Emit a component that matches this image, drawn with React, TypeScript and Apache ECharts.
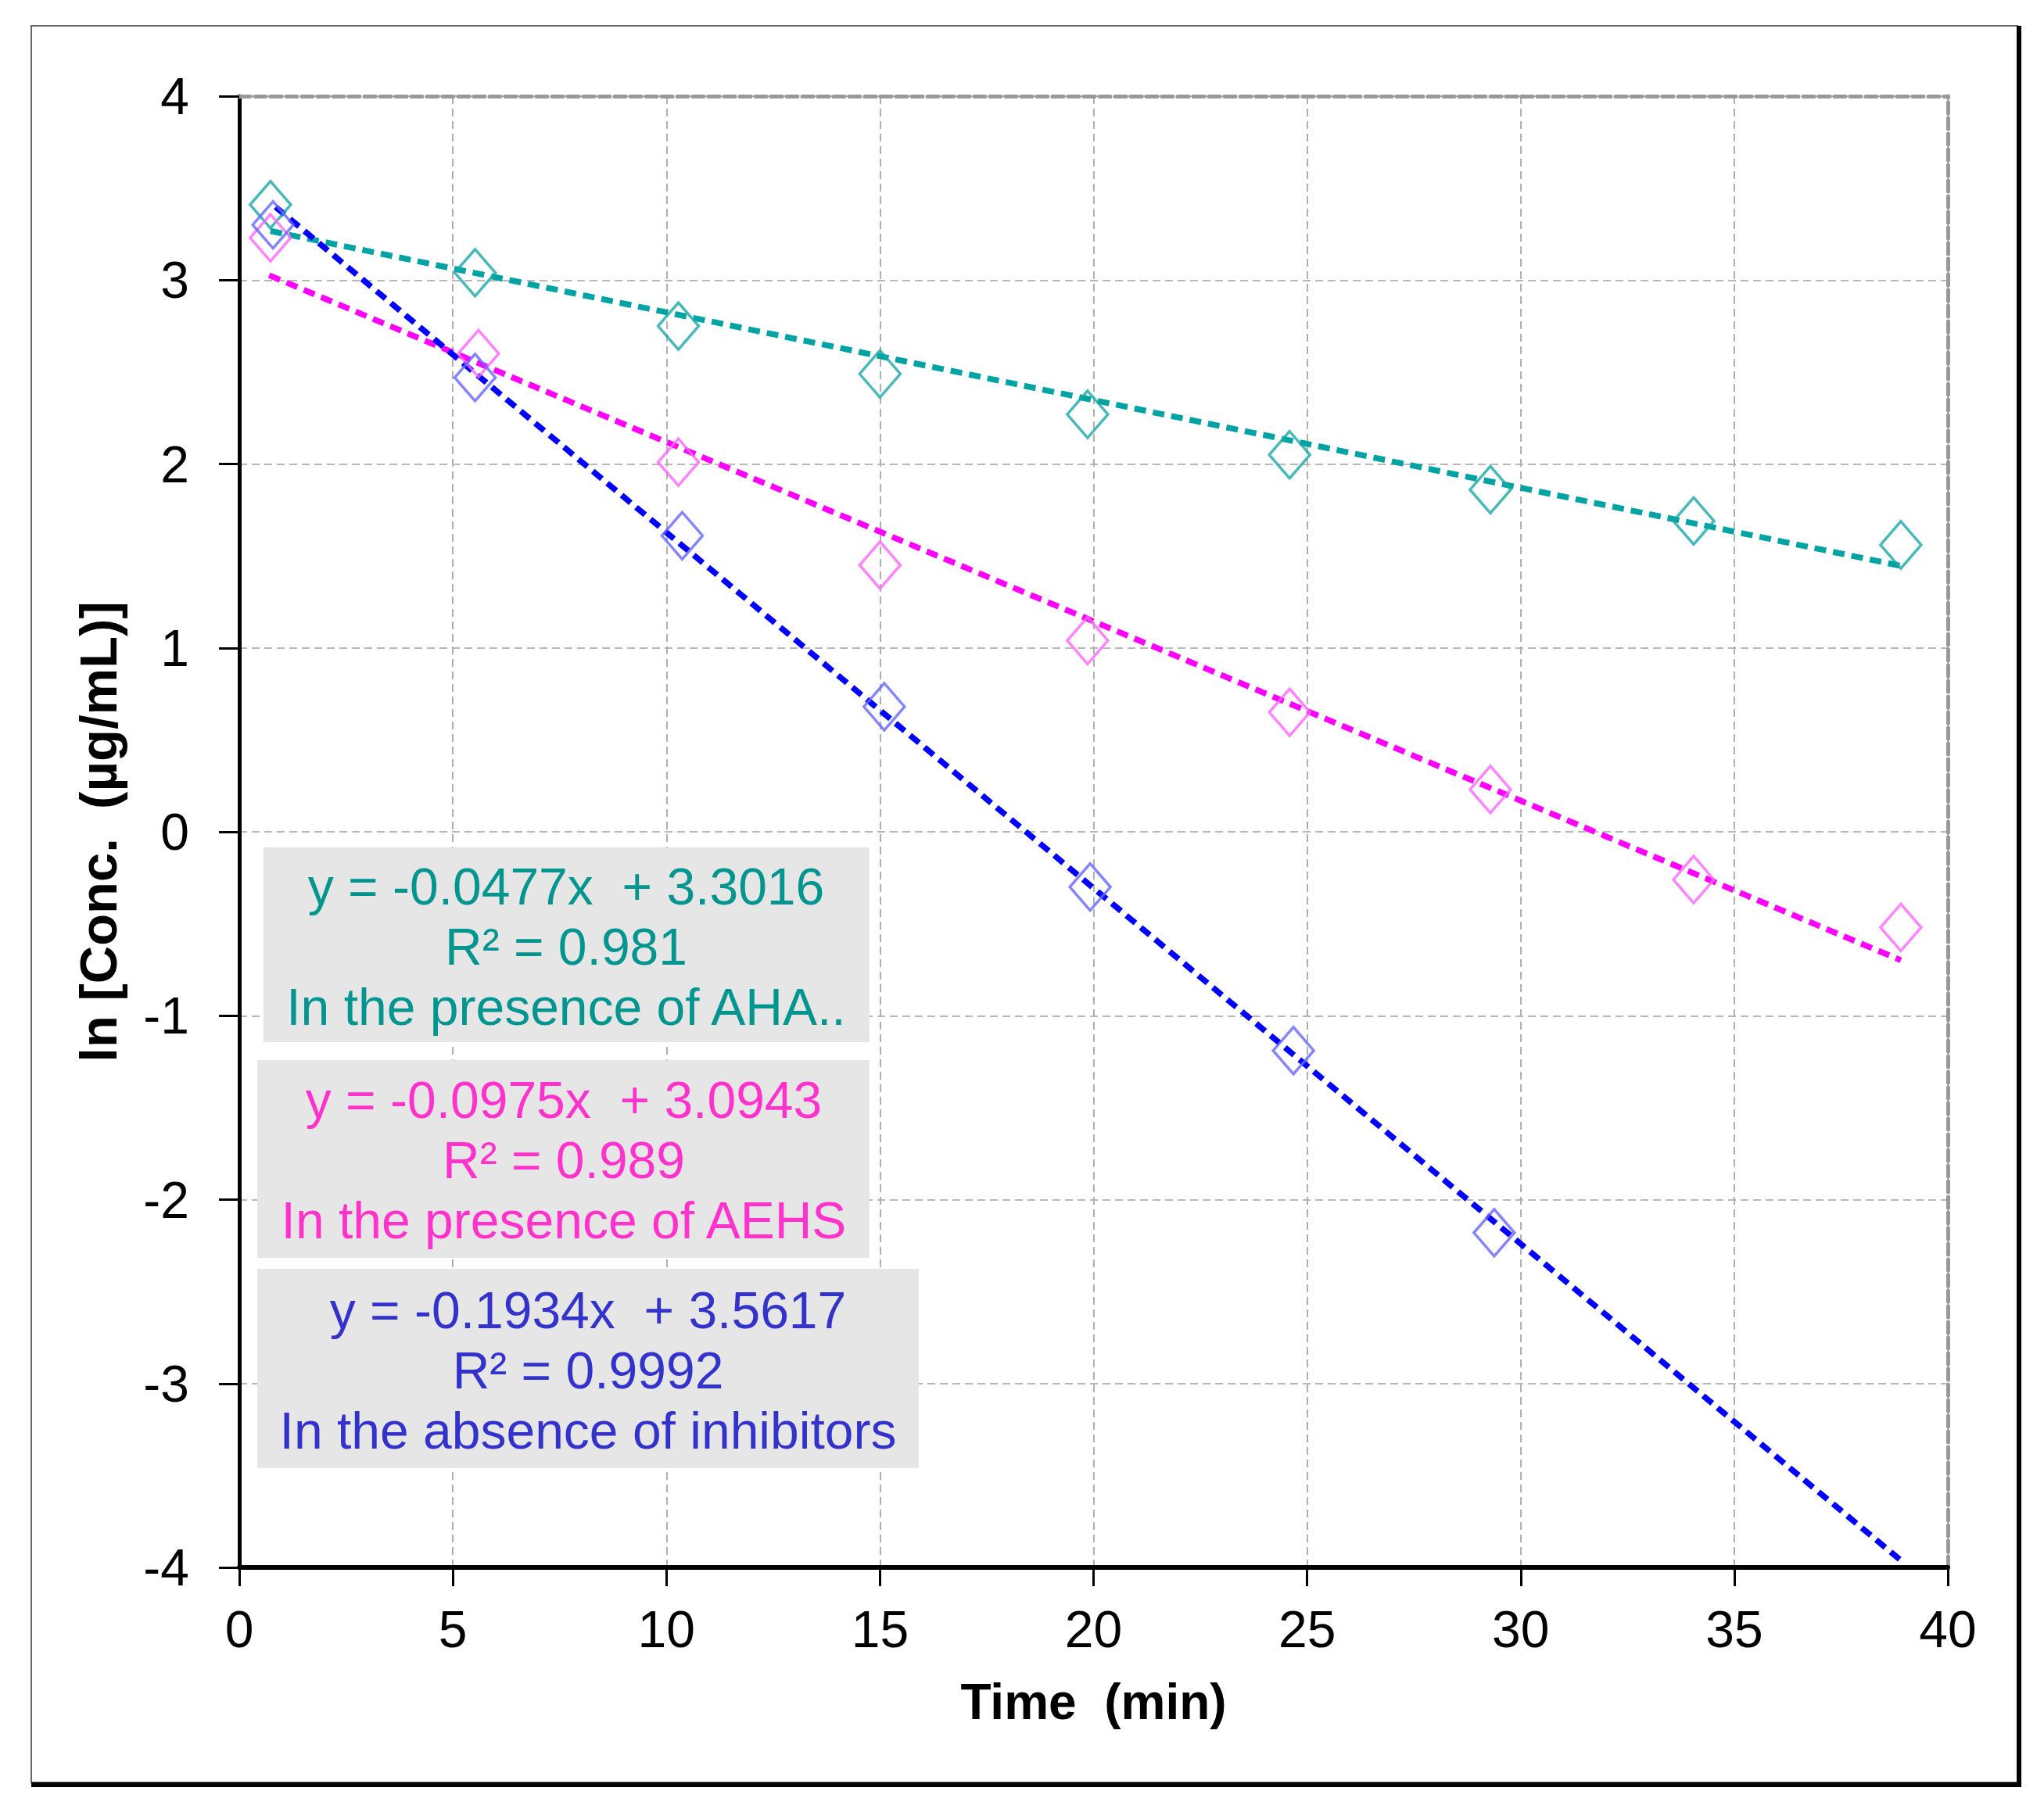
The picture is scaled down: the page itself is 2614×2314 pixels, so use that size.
import React, { useEffect, useRef } from "react";
import * as echarts from "echarts";

// ---- data ----
const xTicks = [0, 5, 10, 15, 20, 25, 30, 35, 40];
const ahaTime = [0.73, 5.52, 10.28, 15.0, 19.86, 24.59, 29.29, 34.05, 38.9];
const ahaLn = [3.41, 3.04, 2.75, 2.49, 2.27, 2.05, 1.86, 1.69, 1.56];
const aehsTime = [0.73, 5.6, 10.28, 15.0, 19.86, 24.59, 29.29, 34.05, 38.9];
const aehsLn = [3.23, 2.6, 2.01, 1.45, 1.04, 0.65, 0.23, -0.26, -0.52];
const noInhTime = [0.79, 5.52, 10.37, 15.1, 19.92, 24.68, 29.38];
const noInhLn = [3.3, 2.47, 1.61, 0.68, -0.3, -1.19, -2.18];

const seriesNames = ["In the presence of AHA..", "In the presence of AEHS", "In the absence of inhibitors"];
const slopes = [-0.0477, -0.0975, -0.1934];
const intercepts = [3.3016, 3.0943, 3.5617];
const r2Labels = ["0.981", "0.989", "0.9992"];
const trendStart = [0.73, 0.7, 0.85];
const trendEnd = [38.9, 38.9, 38.9];

const lineColors = ["#00a3a3", "#ff00ff", "#0000ff"];
const markerColors = ["#1aa6a6", "#ff66ff", "#6666ff"];
const textColors = ["#00968f", "#ff33cc", "#3333cc"];

const FONT = "'Liberation Sans', Arial, sans-serif";

function zip(xs: number[], ys: number[]) {
  return xs.map((x, i) => [x, ys[i]]);
}

export default function App() {
  const ref = useRef<HTMLDivElement>(null);
  useEffect(() => {
    if (!ref.current) return;
    const chart = echarts.init(ref.current, undefined, { renderer: "svg" });
    const pts = [zip(ahaTime, ahaLn), zip(aehsTime, aehsLn), zip(noInhTime, noInhLn)];
    const series: any[] = [];
    for (let i = 0; i < 3; i++) {
      series.push({
        type: "line",
        name: seriesNames[i] + " trend",
        data: [
          [trendStart[i], slopes[i] * trendStart[i] + intercepts[i]],
          [trendEnd[i], slopes[i] * trendEnd[i] + intercepts[i]],
        ],
        showSymbol: false,
        symbol: "none",
        lineStyle: { color: lineColors[i], width: 7.5, type: [15, 9], cap: "butt" },
        z: 3,
      });
    }
    for (let i = 0; i < 3; i++) {
      series.push({
        type: "scatter",
        name: seriesNames[i],
        data: pts[i],
        symbol: "diamond",
        symbolSize: [52, 60],
        itemStyle: { color: "rgba(0,0,0,0)", borderColor: markerColors[i], borderWidth: 3.5 },
        z: 4,
      });
    }

    const boxes = [
      { x: 337, y: 1084, w: 775, h: 249, cx: 724, cy: 1211 },
      { x: 329, y: 1356, w: 783, h: 253, cx: 721, cy: 1484 },
      { x: 329, y: 1623, w: 846, h: 255, cx: 752, cy: 1753 },
    ];
    const graphics: any[] = [
      {
        type: "rect",
        shape: { x: 40, y: 33, width: 2540, height: 2247 },
        style: { fill: "none", stroke: "#666", lineWidth: 2 },
        z: 0,
      },
      { type: "rect", shape: { x: 2579, y: 33, width: 6, height: 2253 }, style: { fill: "#000" } },
      { type: "rect", shape: { x: 40, y: 2280, width: 2545, height: 6 }, style: { fill: "#000" } },
    ];
    boxes.forEach((b, i) => {
      graphics.push({
        type: "rect",
        shape: { x: b.x, y: b.y, width: b.w, height: b.h },
        style: { fill: "#e6e6e6" },
        z: 10,
      });
      const eq = "y = " + slopes[i].toFixed(4) + "x  + " + intercepts[i].toFixed(4);
      graphics.push({
        type: "text",
        x: b.cx,
        y: b.cy,
        z: 11,
        style: {
          text: eq + "\nR² = " + r2Labels[i] + "\n" + seriesNames[i],
          fill: textColors[i],
          font: "66px " + FONT,
          lineHeight: 77,
          align: "center",
          verticalAlign: "middle",
        },
      });
    });

    chart.setOption({
      animation: false,
      backgroundColor: "#fff",
      grid: { left: 306, right: 123, top: 123, bottom: 309, containLabel: false },
      xAxis: [
        {
          type: "value",
          min: 0,
          max: 40,
          interval: 5,
          name: "Time  (min)",
          nameLocation: "middle",
          nameGap: 140,
          nameTextStyle: { fontSize: 64, fontWeight: "bold", color: "#000", fontFamily: FONT },
          axisLine: { show: true, onZero: false, lineStyle: { color: "#000", width: 6 } },
          axisTick: { show: true, length: 24, lineStyle: { color: "#000", width: 3 } },
          axisLabel: { fontSize: 66, color: "#000", margin: 46, fontFamily: FONT },
          splitLine: { show: true, lineStyle: { color: "#b0b0b0", width: 2, type: [10, 6] } },
        },
        {
          type: "value",
          position: "top",
          min: 0,
          max: 40,
          interval: 5,
          axisLine: { show: true, onZero: false, lineStyle: { color: "#999", width: 5, type: [14, 6] } },
          axisTick: { show: false },
          axisLabel: { show: false },
          splitLine: { show: false },
        },
      ],
      yAxis: [
        {
          type: "value",
          min: -4,
          max: 4,
          interval: 1,
          name: "ln [Conc.  (µg/mL)]",
          nameLocation: "middle",
          nameGap: 147,
          nameTextStyle: { fontSize: 67, fontWeight: "bold", color: "#000", fontFamily: FONT },
          axisLine: { show: true, onZero: false, lineStyle: { color: "#000", width: 5 } },
          axisTick: { show: true, length: 26, lineStyle: { color: "#000", width: 3 } },
          axisLabel: { fontSize: 66, color: "#000", margin: 64, fontFamily: FONT },
          splitLine: { show: true, lineStyle: { color: "#b8b8b8", width: 2, type: [10, 6] } },
        },
        {
          type: "value",
          position: "right",
          min: -4,
          max: 4,
          interval: 1,
          axisLine: { show: true, onZero: false, lineStyle: { color: "#999", width: 5, type: [14, 6] } },
          axisTick: { show: false },
          axisLabel: { show: false },
          splitLine: { show: false },
        },
      ],
      series,
      graphic: graphics,
    });
    return () => chart.dispose();
  }, []);
  return (
    <div
      ref={ref}
      style={{ position: "absolute", left: 0, top: 0, width: 2614, height: 2314, background: "#fff" }}
    />
  );
}
